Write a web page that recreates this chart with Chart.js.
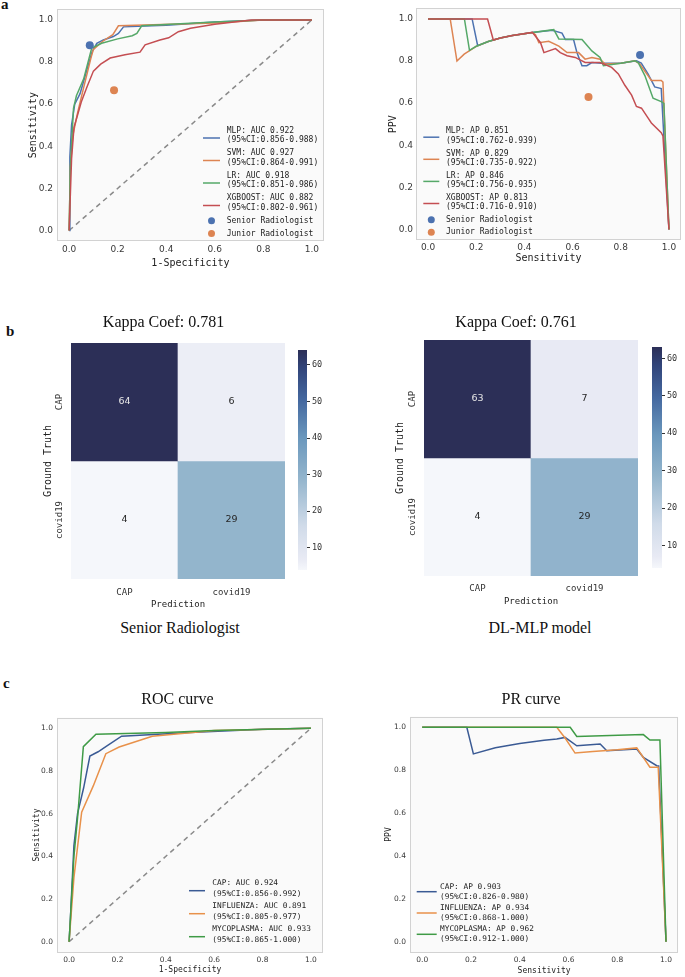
<!DOCTYPE html>
<html><head><meta charset="utf-8">
<script src="https://cdn.jsdelivr.net/npm/chart.js@4.4.1/dist/chart.umd.min.js"></script>
<style>
body{margin:0;background:#fff;}
#wrap{position:relative;width:685px;height:977px;overflow:hidden;background:#fff;}
.lbl{position:absolute;font-family:"Liberation Serif","Times New Roman",serif;color:#111;white-space:nowrap;line-height:1;}
.cap{transform:translate(-50%,-50%);font-size:16px;line-height:1.2;}
</style></head><body><div id="wrap">
<div class="lbl" style="left:1px;top:-3px;font-size:15px;font-weight:bold">a</div>
<div class="lbl" style="left:6px;top:324px;font-size:15px;font-weight:bold">b</div>
<div class="lbl" style="left:3px;top:676px;font-size:15px;font-weight:bold">c</div>
<div class="lbl cap" style="left:180px;top:628px">Senior Radiologist</div>
<div class="lbl cap" style="left:540px;top:628px">DL-MLP model</div>
</div>
<script>
// ---------------- DATA ----------------
const axisTicks = [0, 0.2, 0.4, 0.6, 0.8, 1.0];
const diagX = [0, 1];
const diagY = [0, 1];

// Panel a – ROC (1-Specificity vs Sensitivity)
const rocMlpFpr = [0, 0.003, 0.01, 0.023, 0.045, 0.07, 0.095, 0.114, 0.141, 0.182, 0.203, 0.224, 0.4, 0.6, 0.8, 1];
const rocMlpTpr = [0, 0.35, 0.5, 0.6, 0.65, 0.75, 0.85, 0.889, 0.905, 0.921, 0.936, 0.967, 0.975, 0.99, 1, 1];
const rocSvmFpr = [0, 0.005, 0.015, 0.035, 0.06, 0.09, 0.1, 0.14, 0.18, 0.203, 0.6, 0.8, 1];
const rocSvmTpr = [0, 0.3, 0.45, 0.56, 0.68, 0.82, 0.86, 0.9, 0.93, 0.972, 0.985, 1, 1];
const rocLrFpr = [0, 0.005, 0.018, 0.03, 0.06, 0.093, 0.134, 0.2, 0.26, 0.279, 0.299, 0.6, 0.8, 1];
const rocLrTpr = [0, 0.3, 0.58, 0.64, 0.72, 0.866, 0.889, 0.91, 0.925, 0.936, 0.972, 0.99, 1, 1];
const rocXgbFpr = [0, 0.01, 0.02, 0.035, 0.05, 0.073, 0.1, 0.13, 0.169, 0.23, 0.292, 0.313, 0.374, 0.41, 0.45, 0.5, 0.6, 0.75, 1];
const rocXgbTpr = [0, 0.34, 0.49, 0.55, 0.61, 0.68, 0.757, 0.79, 0.819, 0.835, 0.847, 0.882, 0.905, 0.915, 0.944, 0.96, 0.98, 1, 1];
const rocALegend = [
  ['MLP: AUC 0.922', '(95%CI:0.856-0.988)'],
  ['SVM: AUC 0.927', '(95%CI:0.864-0.991)'],
  ['LR: AUC 0.918', '(95%CI:0.851-0.986)'],
  ['XGBOOST: AUC 0.882', '(95%CI:0.802-0.961)']
];
const raterLabels = ['Senior Radiologist', 'Junior Radiologist'];
const raterFpr = [0.085, 0.185];
const raterSens = [0.88, 0.666];
const raterPpv = [0.829, 0.629];

// Panel a – PR (Sensitivity vs PPV)
const prMlpRec = [0, 0.183, 0.206, 0.25, 0.3, 0.35, 0.433, 0.515, 0.556, 0.57, 0.604, 0.618, 0.639, 0.659, 0.68, 0.72, 0.8, 0.865, 0.885, 0.913, 0.941, 0.968, 1.0];
const prMlpPpv = [1, 1, 0.873, 0.893, 0.909, 0.921, 0.935, 0.946, 0.933, 0.902, 0.902, 0.84, 0.778, 0.778, 0.793, 0.79, 0.79, 0.801, 0.79, 0.739, 0.677, 0.669, 0];
const prSvmRec = [0, 0.092, 0.12, 0.15, 0.2, 0.25, 0.3, 0.35, 0.433, 0.446, 0.46, 0.501, 0.543, 0.577, 0.625, 0.652, 0.68, 0.714, 0.735, 0.8, 0.859, 0.879, 0.913, 0.927, 0.968, 0.975, 1.0];
const prSvmPpv = [1, 1, 0.8, 0.833, 0.87, 0.893, 0.909, 0.921, 0.935, 0.925, 0.887, 0.894, 0.871, 0.84, 0.84, 0.809, 0.817, 0.809, 0.786, 0.789, 0.801, 0.786, 0.731, 0.708, 0.708, 0.7, 0];
const prLrRec = [0, 0.151, 0.172, 0.2, 0.25, 0.3, 0.35, 0.433, 0.522, 0.543, 0.639, 0.68, 0.714, 0.728, 0.8, 0.859, 0.872, 0.9, 0.934, 0.968, 0.979, 1.0];
const prLrPpv = [1, 1, 0.851, 0.87, 0.893, 0.909, 0.921, 0.935, 0.949, 0.905, 0.902, 0.848, 0.817, 0.778, 0.789, 0.801, 0.793, 0.731, 0.623, 0.607, 0.599, 0];
const prXgbRec = [0, 0.247, 0.271, 0.3, 0.35, 0.433, 0.467, 0.481, 0.529, 0.549, 0.577, 0.611, 0.652, 0.714, 0.762, 0.79, 0.817, 0.845, 0.865, 0.886, 0.913, 0.927, 0.968, 0.975, 1.0];
const prXgbPpv = [1, 1, 0.9, 0.909, 0.921, 0.936, 0.887, 0.84, 0.859, 0.84, 0.825, 0.817, 0.793, 0.793, 0.77, 0.739, 0.685, 0.638, 0.584, 0.576, 0.53, 0.506, 0.46, 0.444, 0];
const prALegend = [
  ['MLP: AP 0.851', '(95%CI:0.762-0.939)'],
  ['SVM: AP 0.829', '(95%CI:0.735-0.922)'],
  ['LR: AP 0.846', '(95%CI:0.756-0.935)'],
  ['XGBOOST: AP 0.813', '(95%CI:0.716-0.910)']
];

// Panel b – confusion matrices
const cmClasses = ['CAP', 'covid19'];
const cmSenior = [[64, 6], [4, 29]];
const cmMlp = [[63, 7], [4, 29]];
const cmTitles = ['Kappa Coef: 0.781', 'Kappa Coef: 0.761'];
const cbTicks = [10, 20, 30, 40, 50, 60];

// Panel c – ROC
const rocCapFpr = [0, 0.005, 0.02, 0.035, 0.06, 0.086, 0.12, 0.155, 0.217, 0.5, 0.8, 1];
const rocCapTpr = [0, 0.1, 0.45, 0.6, 0.72, 0.87, 0.89, 0.916, 0.963, 0.98, 0.995, 1];
const rocFluFpr = [0, 0.02, 0.052, 0.1, 0.152, 0.207, 0.344, 0.6, 1];
const rocFluTpr = [0, 0.3, 0.607, 0.73, 0.881, 0.912, 0.963, 0.99, 1];
const rocMycoFpr = [0, 0.02, 0.035, 0.059, 0.111, 0.4, 0.6, 1];
const rocMycoTpr = [0, 0.4, 0.58, 0.914, 0.972, 0.98, 0.99, 1];
const rocCLegend = [
  ['CAP: AUC 0.924', '(95%CI:0.856-0.992)'],
  ['INFLUENZA: AUC 0.891', '(95%CI:0.805-0.977)'],
  ['MYCOPLASMA: AUC 0.933', '(95%CI:0.865-1.000)']
];
// Panel c – PR
const prCapRec = [0, 0.183, 0.21, 0.3, 0.4, 0.5, 0.552, 0.586, 0.634, 0.73, 0.757, 0.88, 0.907, 0.962, 0.97, 1.0];
const prCapPpv = [1, 1, 0.876, 0.905, 0.925, 0.94, 0.945, 0.953, 0.914, 0.922, 0.891, 0.899, 0.86, 0.821, 0.82, 0];
const prFluRec = [0, 0.552, 0.586, 0.627, 0.7, 0.8, 0.88, 0.934, 0.968, 1.0];
const prFluPpv = [1, 1, 0.95, 0.88, 0.887, 0.895, 0.904, 0.814, 0.814, 0];
const prMycoRec = [0, 0.607, 0.634, 0.907, 0.934, 0.975, 1.0];
const prMycoPpv = [1, 1, 0.957, 0.966, 0.941, 0.941, 0];
const prCLegend = [
  ['CAP: AP 0.903', '(95%CI:0.826-0.980)'],
  ['INFLUENZA: AP 0.934', '(95%CI:0.868-1.000)'],
  ['MYCOPLASMA: AP 0.962', '(95%CI:0.912-1.000)']
];

// ---------------- STYLE ----------------
const FONT_SANS = 'DejaVu Sans';
const FONT_MONO = 'DejaVu Sans Mono';
const FONT_SERIF = 'Liberation Serif';
const C_BLUE = '#4c72b0', C_ORANGE = '#dd8452', C_GREEN = '#55a868', C_RED = '#c44e52';
const C2_BLUE = '#3a5a94', C2_ORANGE = '#e8914a', C2_GREEN = '#3f9b46';
const CMAP_STOPS = [[0,'#f5f7fb'],[0.05,'#e8eaf4'],[0.2,'#d0dbe9'],[0.42,'#92b4cc'],[0.6,'#6b98bd'],[0.77,'#4569a0'],[0.92,'#314479'],[1,'#2c2f57']];

Chart.defaults.font.family = FONT_SANS;

function hexRgb(h) { return [1, 3, 5].map(i => parseInt(h.substr(i, 2), 16)); }
function cmap(t) {
  t = Math.max(0, Math.min(1, t));
  for (let i = 1; i < CMAP_STOPS.length; i++) {
    const [t1, c1] = CMAP_STOPS[i];
    const [t0, c0] = CMAP_STOPS[i - 1];
    if (t <= t1) {
      const f = (t - t0) / (t1 - t0 || 1);
      const a = hexRgb(c0), b = hexRgb(c1);
      const m = a.map((v, k) => Math.round(v + (b[k] - v) * f));
      return `rgb(${m[0]},${m[1]},${m[2]})`;
    }
  }
  return CMAP_STOPS[CMAP_STOPS.length - 1][1];
}

const wrap = document.getElementById('wrap');
function makeCanvas(left, top, w, h) {
  const c = document.createElement('canvas');
  c.width = w; c.height = h;
  c.style.cssText = `position:absolute;left:${left}px;top:${top}px;width:${w}px;height:${h}px;`;
  wrap.appendChild(c);
  return c;
}
const pts = (xs, ys) => xs.map((x, i) => ({x, y: ys[i]}));
const lineDs = (legendText, xs, ys, color, order) => ({
  label: legendText[0], legendText, data: pts(xs, ys), showLine: true,
  borderColor: color, backgroundColor: color, borderWidth: 1.5, pointRadius: 0, tension: 0, order
});
const dotDs = (label, x, y, color) => ({
  label, legendText: label, data: [{x, y}], showLine: false, pointRadius: 4,
  pointBackgroundColor: color, backgroundColor: color, borderColor: color, pointBorderWidth: 0, order: 0
});
const diagDs = () => ({
  data: pts(diagX, diagY), showLine: true, borderColor: '#8a8a8a', borderWidth: 1.5,
  borderDash: [5, 4], pointRadius: 0, order: 10
});

// ---------------- PLUGINS ----------------
const framePlugin = {
  id: 'frame',
  beforeDatasetsDraw(chart) {
    const {ctx, chartArea: a} = chart;
    ctx.save(); ctx.fillStyle = '#fafafa';
    ctx.fillRect(a.left, a.top, a.right - a.left, a.bottom - a.top); ctx.restore();
  },
  afterDatasetsDraw(chart) {
    const {ctx, chartArea: a} = chart;
    ctx.save(); ctx.strokeStyle = '#d2d2d2'; ctx.lineWidth = 1;
    ctx.strokeRect(Math.round(a.left) + 0.5, Math.round(a.top) + 0.5, Math.round(a.right - a.left) - 1, Math.round(a.bottom - a.top) - 1);
    ctx.restore();
  }
};
const insideLegend = {
  id: 'insideLegend',
  afterDatasetsDraw(chart, args, o) {
    if (!o || o.x === undefined) return;
    const {ctx, chartArea: a} = chart;
    ctx.save();
    ctx.font = `${o.size}px "${FONT_MONO}"`;
    ctx.textAlign = 'left'; ctx.textBaseline = 'middle';
    let top = a.top + o.y;
    chart.data.datasets.forEach(ds => {
      if (!ds.legendText) return;
      const lines = [].concat(ds.legendText);
      const blockH = lines.length * o.lineH;
      const hy = top + blockH / 2 + (lines.length > 1 ? o.handleDy : 0);
      const hx = a.left + o.x;
      if (ds.showLine === false) {
        ctx.beginPath(); ctx.fillStyle = ds.backgroundColor;
        ctx.arc(hx + o.len / 2, hy, 3.5, 0, Math.PI * 2); ctx.fill();
      } else {
        ctx.beginPath(); ctx.strokeStyle = ds.borderColor; ctx.lineWidth = ds.borderWidth;
        ctx.moveTo(hx, hy); ctx.lineTo(hx + o.len, hy); ctx.stroke();
      }
      ctx.fillStyle = '#222';
      lines.forEach((t, i) => ctx.fillText(t, a.left + o.textX, top + o.lineH * (i + 0.5)));
      top += blockH + o.gap;
    });
    ctx.restore();
  }
};
const cellText = {
  id: 'cellText',
  afterDatasetsDraw(chart) {
    const {ctx} = chart;
    ctx.save();
    ctx.font = `9.5px "${FONT_SANS}"`;
    ctx.textAlign = 'center'; ctx.textBaseline = 'middle';
    chart.data.datasets.forEach((ds, di) => {
      chart.getDatasetMeta(di).data.forEach((el, j) => {
        ctx.fillStyle = ds.textColors[j];
        ctx.fillText(String(ds.counts[j]), el.x, (el.y + el.base) / 2);
      });
    });
    ctx.restore();
  }
};

// ---------------- CHART BUILDERS ----------------
function curveAxis(isX, o) {
  return {
    type: 'linear', min: -0.05, max: 1.05,
    afterBuildTicks: s => { s.ticks = axisTicks.map(v => ({value: v})); },
    afterFit: s => { if (isX) s.height = o.Hx; else s.width = o.Wy; },
    grid: {display: false, drawTicks: false}, border: {display: false},
    ticks: {font: {family: FONT_SANS, size: o.tickSize}, color: '#3a3a3a', padding: isX ? o.xPad : o.yPad,
            autoSkip: false, maxRotation: 0, minRotation: 0, callback: v => Number(v).toFixed(1)},
    title: {display: true, text: isX ? o.xTitle : o.yTitle, color: '#222', padding: 0,
            font: {family: FONT_MONO, size: o.titleSize, lineHeight: 1.2}}
  };
}
function curveChart(canvas, o) {
  return new Chart(canvas, {
    type: 'scatter',
    data: {datasets: o.datasets},
    options: {
      responsive: false, animation: false, events: [],
      layout: {padding: o.pad},
      plugins: {
        legend: {display: false}, tooltip: {enabled: false},
        title: o.title ? {display: true, text: o.title, fullSize: true, color: '#111',
          font: {family: FONT_SERIF, size: 16, weight: 'normal', lineHeight: 1.2},
          padding: {top: 0, bottom: o.titlePb}} : {display: false},
        insideLegend: o.legend
      },
      scales: {x: curveAxis(true, o), y: curveAxis(false, o)}
    },
    plugins: [framePlugin, insideLegend]
  });
}
function heatmap(canvas, cm, o) {
  const flat = cm.flat();
  const vmin = Math.min(...flat), vmax = Math.max(...flat);
  const n = cmClasses.length;
  const datasets = cm.map((row, r) => ({
    label: cmClasses[r],
    data: row.map(() => [n - 1 - r, n - r]),
    counts: row,
    textColors: row.map(v => ((v - vmin) / (vmax - vmin) > 0.6 ? '#e6e6e6' : '#262626')),
    backgroundColor: row.map(v => cmap((v - vmin) / (vmax - vmin))),
    borderWidth: 0, borderSkipped: false, barPercentage: 1, categoryPercentage: 1
  }));
  return new Chart(canvas, {
    type: 'bar',
    data: {labels: cmClasses, datasets},
    options: {
      responsive: false, animation: false, events: [],
      layout: {padding: o.pad},
      plugins: {
        legend: {display: false}, tooltip: {enabled: false},
        title: {display: true, text: o.title, fullSize: true, color: '#111',
          font: {family: FONT_SERIF, size: 16, weight: 'normal', lineHeight: 1.2},
          padding: {top: 0, bottom: o.titlePb}}
      },
      scales: {
        x: {type: 'category', stacked: true, grid: {display: false, drawTicks: false}, border: {display: false},
            afterFit: s => { s.height = o.Hx; },
            ticks: {font: {family: FONT_MONO, size: 9}, color: '#333', padding: o.xPad, maxRotation: 0},
            title: {display: true, text: 'Prediction', color: '#222', padding: 0,
                    font: {family: FONT_MONO, size: 9, lineHeight: 1.2}}},
        y: {type: 'linear', min: 0, max: n, stacked: false,
            grid: {display: false, drawTicks: false}, border: {display: false},
            afterBuildTicks: s => { s.ticks = cmClasses.map((c, i) => ({value: n - i - 0.5})); },
            afterFit: s => { s.width = o.Wy; },
            ticks: {font: {family: FONT_MONO, size: 9}, color: '#333', padding: o.yPad,
                    minRotation: 90, maxRotation: 90, crossAlign: 'center', autoSkip: false,
                    callback: v => cmClasses[n - 1 - Math.floor(v)]},
            title: {display: true, text: 'Ground Truth', color: '#222', padding: 0,
                    font: {family: FONT_MONO, size: 10, lineHeight: 1.2}}}
      }
    },
    plugins: [cellText]
  });
}
function colorbar(canvas, cm) {
  const flat = cm.flat();
  const vmin = Math.min(...flat), vmax = Math.max(...flat);
  return new Chart(canvas, {
    type: 'bar',
    data: {labels: [''], datasets: [{
      data: [[vmin, vmax]], borderWidth: 0, barPercentage: 1, categoryPercentage: 1,
      backgroundColor: c => {
        const a = c.chart.chartArea;
        if (!a) return cmap(0.5);
        const g = c.chart.ctx.createLinearGradient(0, a.bottom, 0, a.top);
        CMAP_STOPS.forEach(([t, col]) => g.addColorStop(t, col));
        return g;
      }
    }]},
    options: {
      responsive: false, animation: false, events: [],
      layout: {padding: 0},
      plugins: {legend: {display: false}, tooltip: {enabled: false}},
      scales: {
        x: {display: false},
        y: {position: 'right', min: vmin, max: vmax,
            afterBuildTicks: s => { s.ticks = cbTicks.map(v => ({value: v})); },
            afterFit: s => { s.width = 30; },
            grid: {display: true, drawOnChartArea: false, drawTicks: true, tickLength: 3, tickColor: '#333', color: '#333'},
            border: {display: false},
            ticks: {font: {family: FONT_MONO, size: 8.5}, color: '#333', padding: 2}}
      }
    }
  });
}

// ---------------- BUILD ----------------
// a – ROC
curveChart(makeCanvas(27, 0, 307, 269), {
  pad: {left: 0, top: 7, right: 10, bottom: 0}, Wy: 30, Hx: 28,
  tickSize: 9, titleSize: 10, xPad: 3, yPad: 4,
  xTitle: '1-Specificity', yTitle: 'Sensitivity',
  datasets: [
    lineDs(rocALegend[0], rocMlpFpr, rocMlpTpr, C_BLUE, 4),
    lineDs(rocALegend[1], rocSvmFpr, rocSvmTpr, C_ORANGE, 3),
    lineDs(rocALegend[2], rocLrFpr, rocLrTpr, C_GREEN, 2),
    lineDs(rocALegend[3], rocXgbFpr, rocXgbTpr, C_RED, 1),
    dotDs(raterLabels[0], raterFpr[0], raterSens[0], C_BLUE),
    dotDs(raterLabels[1], raterFpr[1], raterSens[1], C_ORANGE),
    diagDs()
  ],
  legend: {x: 146, len: 17, textX: 169.7, y: 116.4, lineH: 9.7, gap: 3.1, handleDy: 2.5, size: 8}
});
// a – PR
curveChart(makeCanvas(387, 0, 298, 264), {
  pad: {left: 0, top: 3, right: 2, bottom: 0}, Wy: 29, Hx: 24,
  tickSize: 9, titleSize: 10, xPad: 2, yPad: 3,
  xTitle: 'Sensitivity', yTitle: 'PPV',
  datasets: [
    lineDs(prALegend[0], prMlpRec, prMlpPpv, C_BLUE, 4),
    lineDs(prALegend[1], prSvmRec, prSvmPpv, C_ORANGE, 3),
    lineDs(prALegend[2], prLrRec, prLrPpv, C_GREEN, 2),
    lineDs(prALegend[3], prXgbRec, prXgbPpv, C_RED, 1),
    dotDs(raterLabels[0], raterSens[0], raterPpv[0], C_BLUE),
    dotDs(raterLabels[1], raterSens[1], raterPpv[1], C_ORANGE)
  ],
  legend: {x: 7.3, len: 16, textX: 30, y: 118.2, lineH: 9.6, gap: 2.9, handleDy: 1, size: 8}
});
// b – confusion matrices
heatmap(makeCanvas(42, 313, 279, 297), cmSenior, {
  pad: {left: 0, top: 0, right: 36, bottom: 0}, Wy: 29, Hx: 31, titlePb: 10.8, xPad: 8, yPad: -8, title: cmTitles[0]
});
colorbar(makeCanvas(298, 343, 39, 234), cmSenior);
heatmap(makeCanvas(394, 313, 291, 294), cmMlp, {
  pad: {left: 0, top: 0, right: 47, bottom: 0}, Wy: 30, Hx: 31, titlePb: 7.8, xPad: 7, yPad: -8, title: cmTitles[1]
});
colorbar(makeCanvas(652, 340, 40, 235), cmMlp);
// c – ROC
curveChart(makeCanvas(32, 690, 316, 285), {
  pad: {left: 0, top: 0, right: 25, bottom: 0}, Wy: 25, Hx: 22.6, title: 'ROC curve', titlePb: 8.4,
  tickSize: 7.5, titleSize: 8, xPad: 3, yPad: 4,
  xTitle: '1-Specificity', yTitle: 'Sensitivity',
  datasets: [
    lineDs(rocCLegend[0], rocCapFpr, rocCapTpr, C2_BLUE, 3),
    lineDs(rocCLegend[1], rocFluFpr, rocFluTpr, C2_ORANGE, 2),
    lineDs(rocCLegend[2], rocMycoFpr, rocMycoTpr, C2_GREEN, 1),
    diagDs()
  ],
  legend: {x: 132, len: 16, textX: 155.3, y: 160.5, lineH: 10.3, gap: 2.4, handleDy: 2.3, size: 7.8}
});
// c – PR
curveChart(makeCanvas(384, 690, 301, 286), {
  pad: {left: 0, top: 0, right: 6.8, bottom: 0}, Wy: 26, Hx: 23.6, title: 'PR curve', titlePb: 7.4,
  tickSize: 7.5, titleSize: 8, xPad: 3, yPad: 4,
  xTitle: 'Sensitivity', yTitle: 'PPV',
  datasets: [
    lineDs(prCLegend[0], prCapRec, prCapPpv, C2_BLUE, 3),
    lineDs(prCLegend[1], prFluRec, prFluPpv, C2_ORANGE, 2),
    lineDs(prCLegend[2], prMycoRec, prMycoPpv, C2_GREEN, 1)
  ],
  legend: {x: 6.7, len: 20, textX: 30, y: 165.1, lineH: 10, gap: 1.3, handleDy: 0, size: 7.8}
});
</script>
</body></html>
